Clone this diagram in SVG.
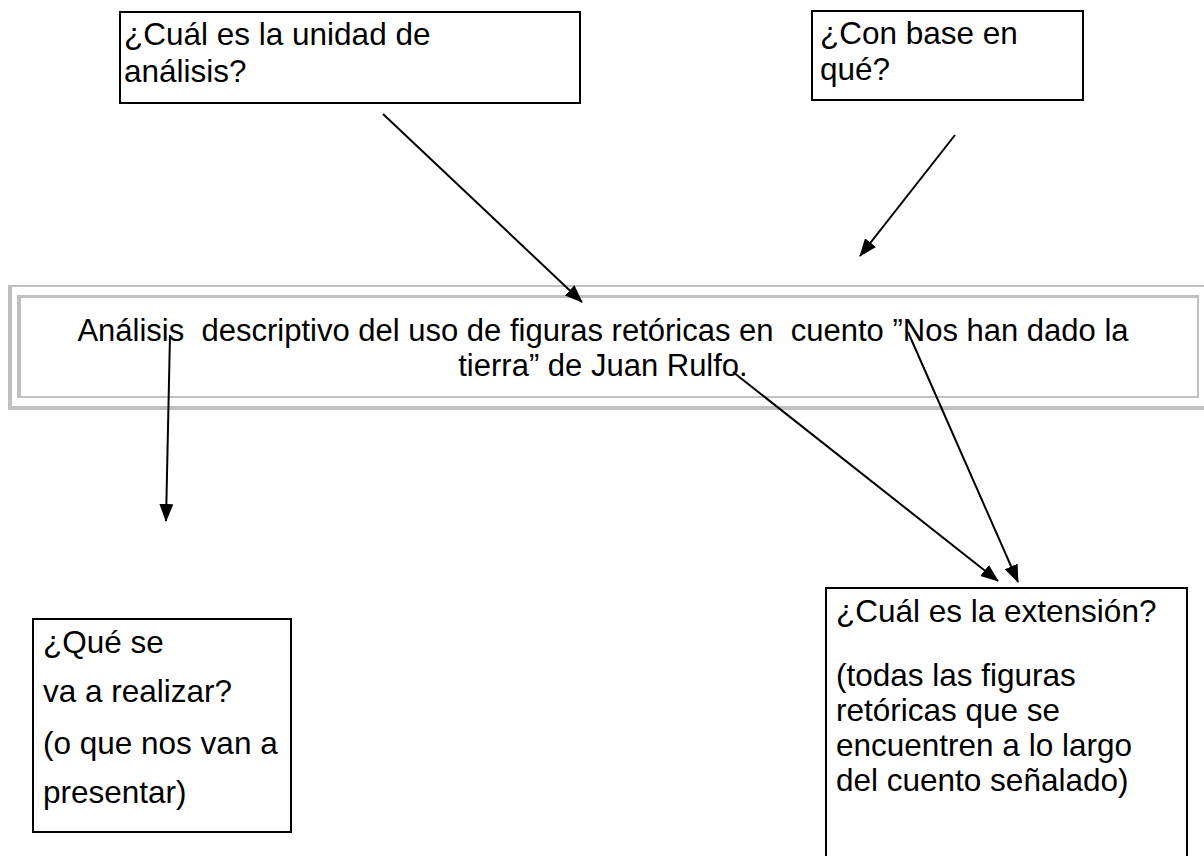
<svg xmlns="http://www.w3.org/2000/svg" width="1204" height="856" viewBox="0 0 1204 856">
<style>
.t{font-family:"Liberation Sans",Arial,sans-serif;font-size:31.5px;fill:#000}
.tc{font-size:31px}
.box{fill:#fff;stroke:#000;stroke-width:2}
.g{stroke:#c0c0c0;fill:none}
.c{stroke:#000;stroke-width:2;fill:none;marker-end:url(#ah)}
</style>
<defs>
<marker id="ah" viewBox="0 0 18 14" refX="17" refY="7" markerWidth="18" markerHeight="14" markerUnits="userSpaceOnUse" orient="auto">
<path d="M0,0 L18,7 L0,14 z" fill="#000"/>
</marker>
</defs>
<rect width="1204" height="856" fill="#fff"/>
<g id="central">
<line class="g" x1="8" y1="286" x2="1204" y2="286" stroke-width="2"/>
<line class="g" x1="10" y1="285" x2="10" y2="410" stroke-width="4"/>
<line class="g" x1="8" y1="408" x2="1204" y2="408" stroke-width="4"/>
<line class="g" x1="17" y1="296.5" x2="1199" y2="296.5" stroke-width="3"/>
<line class="g" x1="19" y1="295" x2="19" y2="398" stroke-width="4"/>
<line class="g" x1="1198" y1="295" x2="1198" y2="398" stroke-width="2"/>
<line class="g" x1="17" y1="397" x2="1199" y2="397" stroke-width="2"/>
<text class="t tc" x="603" y="341" text-anchor="middle" xml:space="preserve">Análisis  descriptivo del uso de figuras retóricas en  cuento ”Nos han dado la</text>
<text class="t tc" x="603" y="376" text-anchor="middle">tierra” de Juan Rulfo.</text>
</g>
<g id="box-unidad">
<rect class="box" x="120" y="12" width="460" height="91"/>
<text class="t" x="124" y="45">¿Cuál es la unidad de</text>
<text class="t" x="124" y="82">análisis?</text>
</g>
<g id="box-base">
<rect class="box" x="812" y="11" width="271" height="89"/>
<text class="t" x="820" y="44">¿Con base en</text>
<text class="t" x="820" y="80">qué?</text>
</g>
<g id="box-realizar">
<rect class="box" x="33" y="619" width="258" height="213"/>
<text class="t" x="43" y="653">¿Qué se</text>
<text class="t" x="43" y="702">va a realizar?</text>
<text class="t" x="43" y="754">(o que nos van a</text>
<text class="t" x="43" y="803">presentar)</text>
</g>
<g id="box-extension">
<rect class="box" x="826" y="588" width="361" height="280"/>
<text class="t" x="836" y="622">¿Cuál es la extensión?</text>
<text class="t" x="836" y="686">(todas las figuras</text>
<text class="t" x="836" y="721">retóricas que se</text>
<text class="t" x="836" y="756">encuentren a lo largo</text>
<text class="t" x="836" y="791">del cuento señalado)</text>
</g>
<g id="connectors">
<line class="c" x1="383" y1="114" x2="582" y2="302"/>
<line class="c" x1="955" y1="135" x2="860" y2="256"/>
<line class="c" x1="170" y1="335" x2="166" y2="521"/>
<line class="c" x1="733" y1="372" x2="998" y2="581"/>
<line class="c" x1="908" y1="332" x2="1018" y2="582"/>
</g>
</svg>
